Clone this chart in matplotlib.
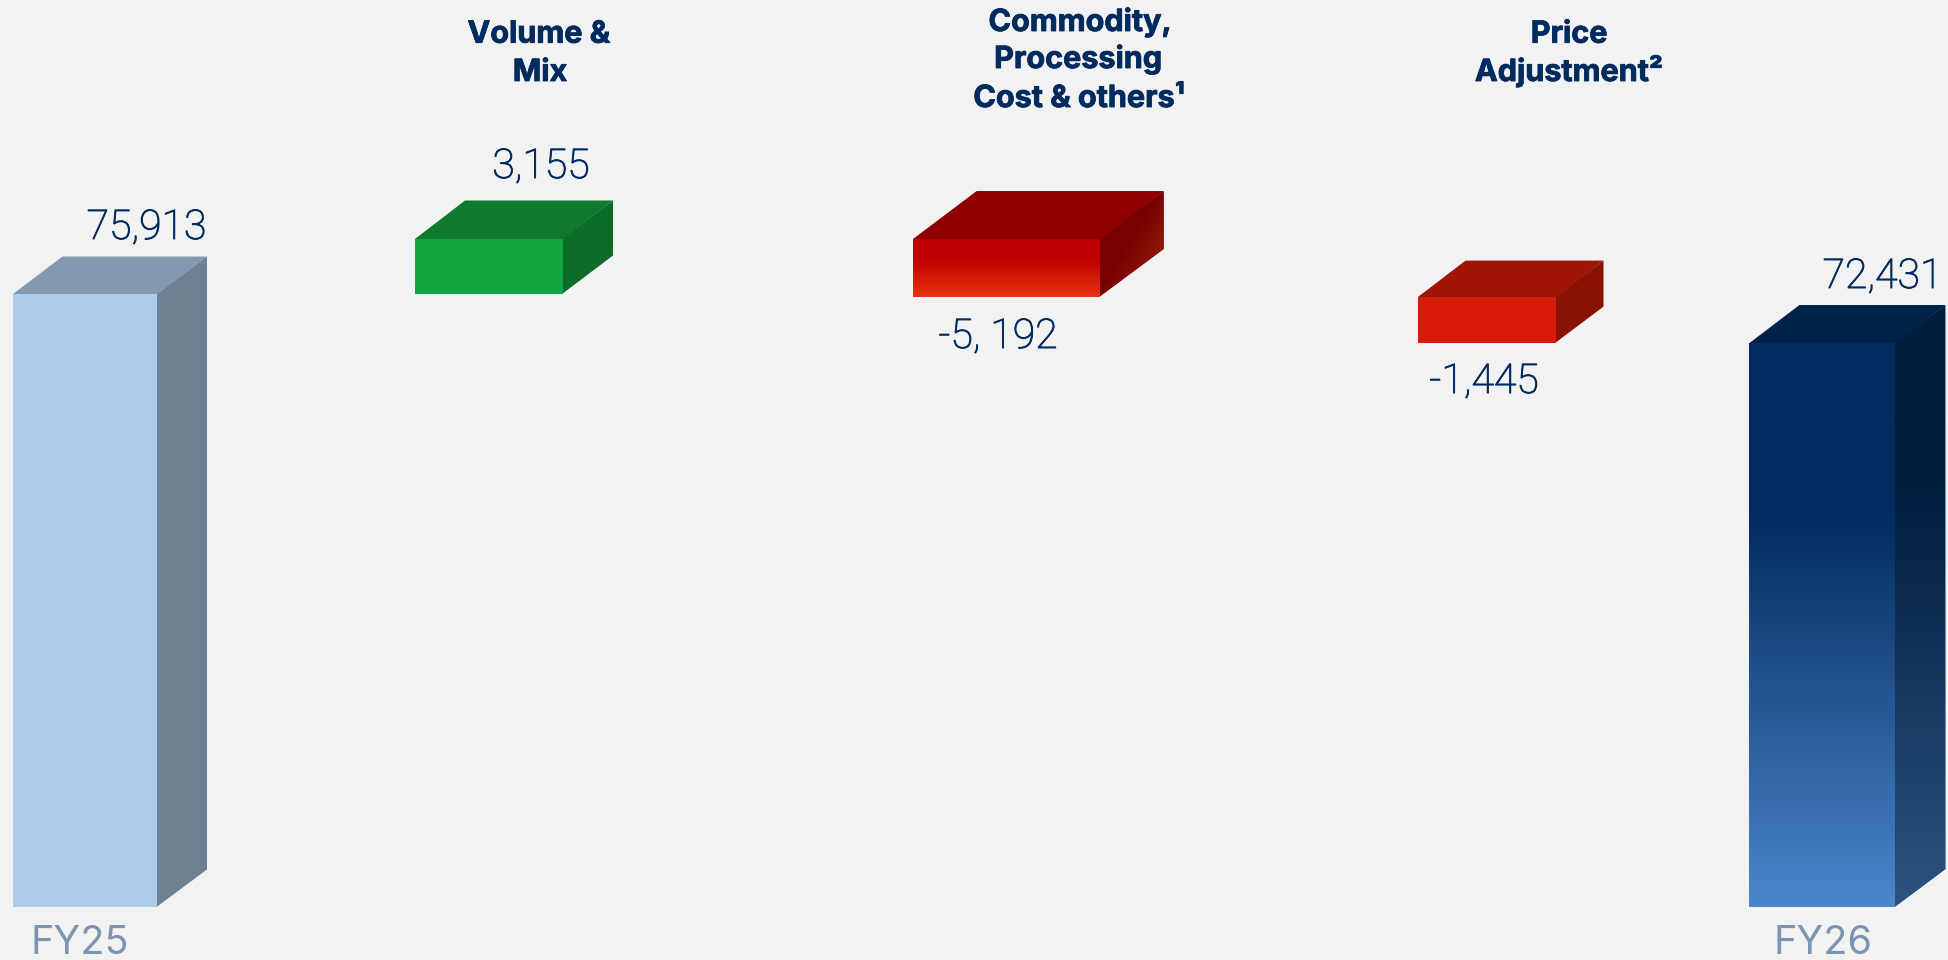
import numpy as np
import matplotlib
matplotlib.use('Agg')
import matplotlib.pyplot as plt
import matplotlib.patheffects as pe
from matplotlib.colors import LinearSegmentedColormap, to_rgb
from matplotlib.patches import Polygon

# Revenue bridge FY25 -> FY26
categories = ['FY25', 'Volume & Mix', 'Commodity, Processing Cost & others', 'Price Adjustment', 'FY26']
values = [75913, 3155, -5192, -1445, 72431]
is_total = [True, False, False, False, True]
value_labels = ['75,913', '3,155', '-5, 192', '-1,445', '72,431']

# Bar layout, in pixels across the slide
bar_left = [13, 415, 913, 1418, 1749.5]
bar_width = [144.5, 148, 187, 138, 146]
depth_x = [49.5, 50, 63.7, 47.5, 50]
depth_y = [37.5, 38.5, 48, 36.4, 38]

# Face colours as (position, colour) stops, 0 = upper end of the face
front_colors = [
    [(0, '#ABCDE9'), (1, '#ABCDE9')],
    [(0, '#10A53F'), (1, '#10A53F')],
    [(0, '#BF0000'), (0.35, '#BF0000'), (1, '#E8330F')],
    [(0, '#D81B08'), (1, '#D81B08')],
    [(0, '#022B60'), (0.3, '#022B60'), (1, '#4B85CB')],
]
top_colors = ['#8299B0', '#0E7A2E', '#8F0000', '#A01505', '#002148']
side_colors = [
    [(0, '#6D8193'), (1, '#6D8193')],
    [(0, '#0B6B27'), (1, '#0B6B27')],
    [(0, '#770000'), (0.45, '#770000'), (1, '#A0280E')],
    [(0, '#8A1203'), (1, '#8A1203')],
    [(0, '#001E3E'), (0.3, '#001E3E'), (1, '#2C5480')],
]

BG = '#F2F2F2'
NAVY = '#012B5F'
GREY_BLUE = '#7C94B0'
W, H = 1949, 960

# The value axis is cut hard above zero so the small steps can be seen
axis_values = [-6800, 0, 72431, 73876, 75913, 79068, 85000]
axis_pixels = [0, 53, 617, 663, 666, 721, 960]


def forward(v):
    return np.interp(v, axis_values, axis_pixels)


def inverse(p):
    return np.interp(p, axis_pixels, axis_values)


fig = plt.figure(figsize=(W / 100, H / 100), dpi=100, facecolor=BG)
ax = fig.add_axes([0, 0, 1, 1], facecolor=BG)
ax.set_yscale('function', functions=(forward, inverse))
ax.set_xlim(0, W)
ax.set_ylim(axis_values[0], axis_values[-1])
ax.axis('off')

# Waterfall: totals start at zero, each delta starts where the last one ended
bottoms = []
running = 0
for v, total in zip(values, is_total):
    if total:
        bottoms.append(0)
        running = v
    else:
        bottoms.append(running)
        running += v

bars = ax.bar(bar_left, values, width=bar_width, bottom=bottoms, align='edge',
              color=[c[0][1] for c in front_colors], linewidth=0)

# Pixel overlay for the extruded faces
ov = fig.add_axes([0, 0, 1, 1])
ov.patch.set_alpha(0)
ov.axis('off')
layer = [1]


def next_layer():
    layer[0] += 1
    return layer[0]


def paint(points, stops, direction=(0, 1)):
    points = np.array(points)
    if stops[0][1] == stops[-1][1]:
        ov.add_patch(Polygon(points, closed=True, fc=stops[0][1], ec='none', zorder=next_layer()))
        return
    # plain underlay so the clipped image leaves no pale seam at its edge
    mean = np.mean([to_rgb(s[1]) for s in stops], axis=0)
    ov.add_patch(Polygon(points, closed=True, fc=mean, ec='none', zorder=next_layer()))
    x0, y0 = points.min(axis=0)
    x1, y1 = points.max(axis=0)
    xx, yy = np.meshgrid(np.linspace(0, 1, 200), np.linspace(0, 1, 400))
    t = xx * direction[0] + yy * direction[1]
    t = (t - t.min()) / (t.max() - t.min())
    cmap = LinearSegmentedColormap.from_list('face', stops)
    im = ov.imshow(t, cmap=cmap, vmin=0, vmax=1, extent=(x0, x1, y1, y0), aspect='auto',
                   origin='upper', interpolation='bilinear', zorder=next_layer())
    clip = Polygon(points, closed=True, fc='none', ec='none', transform=ov.transData)
    ov.add_patch(clip)
    im.set_clip_path(clip)


for i, rect in enumerate(bars):
    (xa, ya), (xb, yb) = ax.transData.transform(
        [(rect.get_x(), rect.get_y()), (rect.get_x() + rect.get_width(), rect.get_y() + rect.get_height())])
    left, right = xa, xb
    top, bottom = H - max(ya, yb), H - min(ya, yb)
    dx, dy = depth_x[i], depth_y[i]
    # the tall red block has a diagonal sheen on its side
    direction = (1, 1) if i == 2 else (0, 1)
    paint([(right - 1, top), (right + dx, top - dy), (right + dx, bottom - dy), (right - 1, bottom)],
          side_colors[i], direction)
    paint([(left, top), (left + dx, top - dy), (right + dx, top - dy), (right, top)],
          [(0, top_colors[i]), (1, top_colors[i])])
    paint([(left, top), (right, top), (right, bottom), (left, bottom)], front_colors[i])

ov.set_xlim(0, W)
ov.set_ylim(H, 0)

# Value labels
label_font = dict(family=['Roboto', 'DejaVu Sans'], fontweight='light', fontsize=29.5, color=NAVY,
                  va='baseline', ha='center', zorder=100,
                  path_effects=[pe.withStroke(linewidth=0.7, foreground=NAVY)])
label_x = [146.5, 541, 998, 1484, 1882.5]
label_y = [239, 178, 348, 393, 288]
for x, y, s in zip(label_x, label_y, value_labels):
    ov.text(x, y, s, **label_font)

# Axis captions for the two totals
ov.text(80, 954, categories[0], family=['Inter', 'DejaVu Sans'], fontsize=28.5, color=GREY_BLUE,
        ha='center', va='baseline', zorder=100)
ov.text(1823.5, 954, categories[-1], family=['Inter', 'DejaVu Sans'], fontsize=28.5, color=GREY_BLUE,
        ha='center', va='baseline', zorder=100)

# Step headings, thickened a little with a stroke
head_font = dict(family=['Inter', 'DejaVu Sans'], fontsize=22, fontweight='bold', color=NAVY,
                 ha='center', va='baseline', zorder=100,
                 path_effects=[pe.withStroke(linewidth=0.6, foreground=NAVY)])
heading_lines = [
    (539, 42.7, 'Volume &'), (540, 81, 'Mix'),
    (1080, 31, 'Commodity,'), (1078, 68, 'Processing'), (1079, 107, 'Cost & others¹'),
    (1569, 42.7, 'Price'), (1569, 81, 'Adjustment²'),
]
for x, y, s in heading_lines:
    ov.text(x, y, s, **head_font)

fig.savefig('out.png', dpi=100, facecolor=BG)
